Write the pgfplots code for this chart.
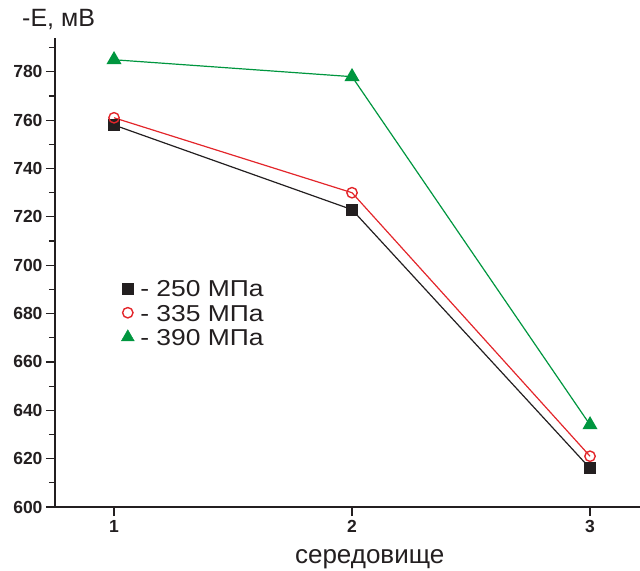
\documentclass[border=0pt]{standalone}
\usepackage{fontspec}
\setmainfont{Liberation Sans}
\usepackage{graphicx}
\usepackage{pgfplots}
\pgfplotsset{compat=1.18}

\definecolor{cblack}{HTML}{231F20}
\definecolor{cred}{HTML}{E3262B}
\definecolor{cgreen}{HTML}{00963F}

% legend text is set slightly wide
\newcommand{\wide}[1]{\scalebox{1.15}[1]{#1}}

\begin{document}
\begin{tikzpicture}
\begin{axis}[
  name=ax,
  scale only axis,
  width=585bp, height=469bp,
  xmin=0.752, xmax=3.21,
  ymin=600, ymax=794,
  axis x line=bottom, axis y line=left,
  axis line style={-, line width=1.6bp, cblack},
  xtick={1,2,3},
  ytick={600,620,...,780},
  minor ytick={610,630,...,790},
  tick align=outside,
  major tick length=9bp, minor tick length=6bp,
  every tick/.style={line width=1.2bp, cblack},
  tick label style={font=\fontsize{17.5bp}{19bp}\selectfont\bfseries, text=cblack},
  /pgf/number format/assume math mode=true,
  /pgf/number format/1000 sep={},
  xticklabel style={yshift=-1bp},
  xlabel={середовище},
  xlabel style={at={(rel axis cs:0.538,-0.1215)}, anchor=base, inner sep=0pt,
    font=\fontsize{26bp}{28bp}\selectfont, text=cblack},
  clip=false,
  legend cell align=left,
  legend style={draw=none, fill=none, at={(rel axis cs:0.113,0.485)}, anchor=north west,
    font=\fontsize{23bp}{24bp}\selectfont, text=cblack,
    nodes={inner sep=0pt, text height=17bp, text depth=0bp},
    row sep=7.5bp, inner sep=0pt,
    /tikz/every odd column/.append style={column sep=6bp}},
]
\addlegendimage{only marks, mark=square*, mark size=5.5bp, mark options={draw=cblack, fill=cblack}}
\addlegendentry{\wide{- 250 МПа}}
\addlegendimage{only marks, mark=o, mark size=5.2bp, mark options={draw=cred, line width=1.4bp}}
\addlegendentry{\wide{- 335 МПа}}
\addlegendimage{only marks, mark=triangle*, mark size=7.5bp, mark options={draw=cgreen, fill=cgreen}}
\addlegendentry{\wide{- 390 МПа}}

% 250 MPa
\addplot[forget plot, cblack, line width=1.2bp, mark=square*, mark size=5.5bp,
  mark options={draw=cblack, fill=cblack}]
  coordinates {(1,758) (2,723) (3,616)};
% 335 MPa
\addplot[forget plot, cred, line width=1.2bp, mark=o, mark size=5.2bp,
  mark options={draw=cred, fill=white, line width=1.4bp}]
  coordinates {(1,761) (2,730) (3,621)};
% 390 MPa
\addplot[forget plot, cgreen, line width=1.2bp, mark=triangle*, mark size=7.5bp,
  mark options={draw=cgreen, fill=cgreen}]
  coordinates {(1,785) (2,778) (3,634)};

\node[anchor=base west, inner sep=0pt, font=\fontsize{25bp}{27bp}\selectfont, text=cblack]
  at (rel axis cs:-0.0564,1.0235) {-E, мВ};
\end{axis}
\pgfresetboundingbox
\path ([xshift=-55bp,yshift=-64bp]ax.south west) rectangle ([yshift=38bp]ax.north east);
\end{tikzpicture}
\end{document}
